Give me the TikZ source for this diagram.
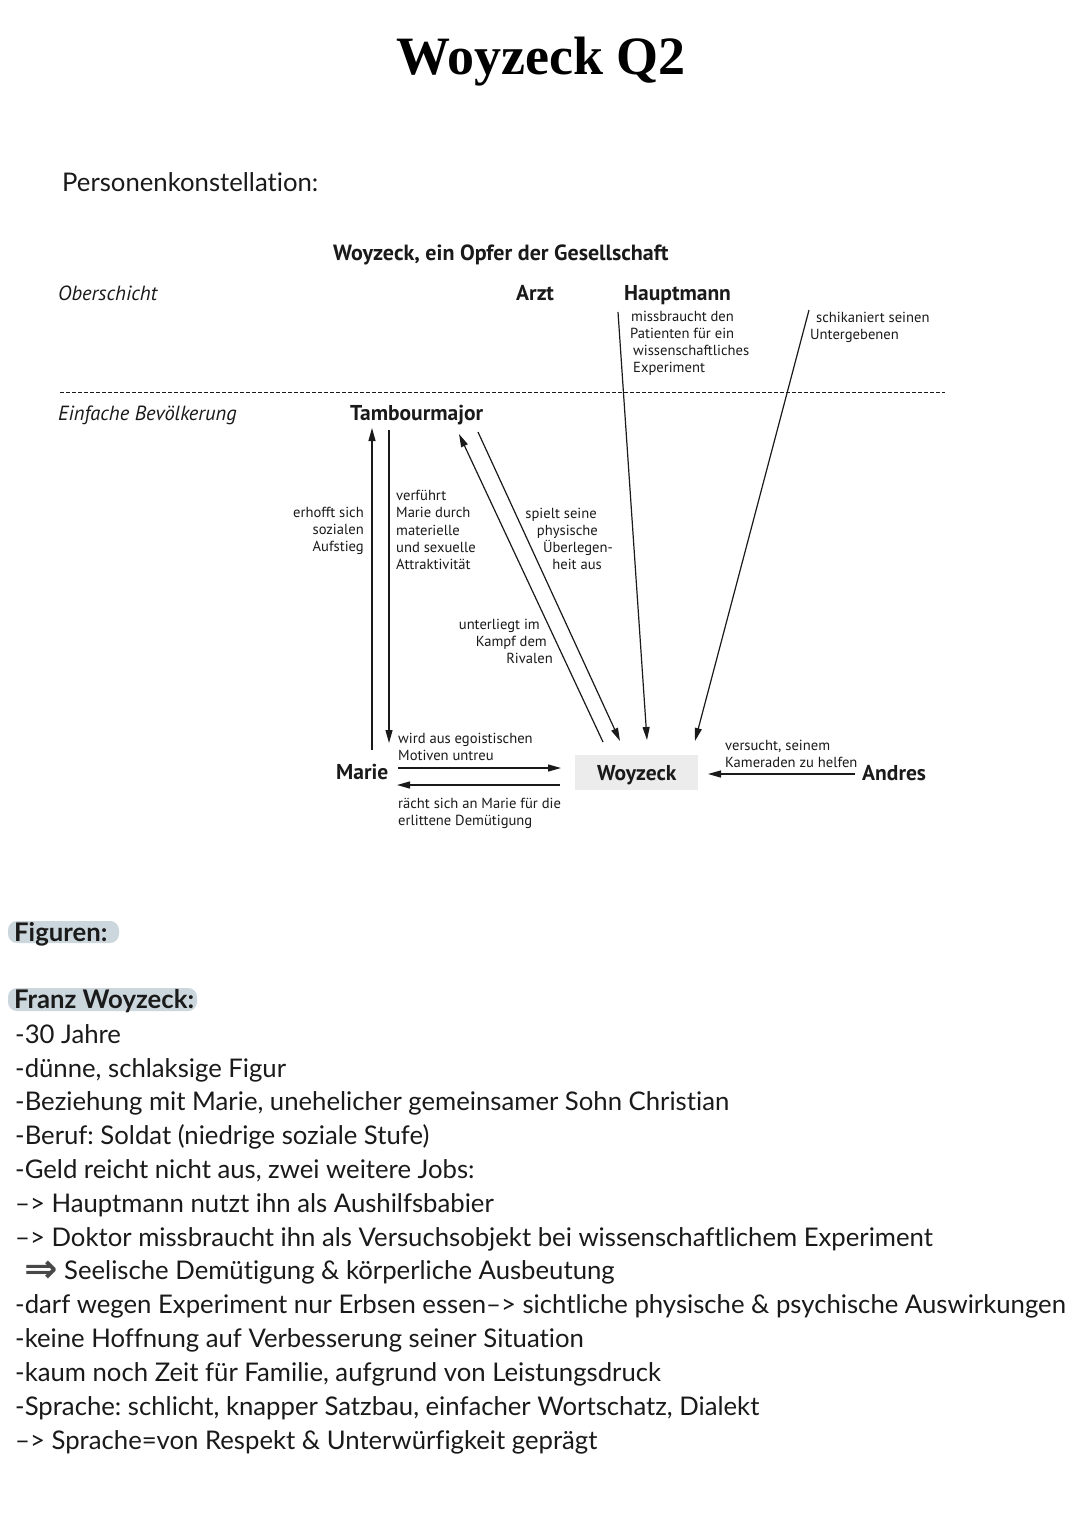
\documentclass[tikz,border=0pt]{standalone}
\usepackage{fontspec}
\usetikzlibrary{arrows.meta}
\newfontfamily\bodyf[RawFeature=-liga]{Lato}
\newfontfamily\diaf{PT Sans}
\newfontfamily\titlef{Liberation Serif}
\newfontfamily\symf{DejaVu Sans}
\definecolor{hl}{HTML}{CBD6DD}
\definecolor{ink}{HTML}{1A1A1A}
\frenchspacing
\begin{document}
\begin{tikzpicture}[x=1pt,y=-1pt,
  bodytxt/.style={anchor=base west,inner sep=0pt,text=ink,font=\bodyf\fontsize{25.7}{30}\selectfont},
  bodybold/.style={bodytxt,font=\bodyf\bfseries\fontsize{25.7}{30}\selectfont},
  pname/.style={inner sep=0pt,text=ink,font=\diaf\bfseries\fontsize{21.5}{24}\selectfont},
  layertxt/.style={anchor=base west,inner sep=0pt,text=ink,font=\diaf\itshape\fontsize{20.5}{24}\selectfont},
  smalltxt/.style={inner sep=0pt,text=ink,font=\diaf\fontsize{14.6}{17}\selectfont},
  rel/.style={line width=1.2pt,draw=ink,-{Triangle[length=13pt,width=7pt]}},
  hlbox/.style={fill=hl,rounded corners=9pt,draw=none}]
\useasboundingbox (0,0) rectangle (1080,1527);
\fill[white] (0,0) rectangle (1080,1527);

% headings
\node[anchor=base,inner sep=0pt,font=\titlef\bfseries\fontsize{54}{60}\selectfont] (title) at (541,74) {Woyzeck Q2};
\node[bodytxt] (pk) at (62,191) {Personenkonstellation:};

% diagram
\node[pname,anchor=base west,font=\diaf\bfseries\fontsize{22}{24}\selectfont] (sub) at (333,260) {Woyzeck, ein Opfer der Gesellschaft};
\node[layertxt] (ober) at (58,300) {Oberschicht};
\node[layertxt] (einf) at (58,420) {Einfache Bevölkerung};
\draw[ink,line width=1pt,dash pattern=on 4pt off 2pt] (60,392) -- (945,392);

\node[pname,anchor=base west] (arzt) at (516,300) {Arzt};
\node[pname,anchor=base west] (haupt) at (624,300) {Hauptmann};
\node[pname,anchor=base west] (tamb) at (350,420) {Tambourmajor};
\node[pname,anchor=base west] (marie) at (336,779) {Marie};
\fill[gray!15] (575,755) rectangle (698,790);
\node[pname,anchor=base west] (woy) at (597,780) {Woyzeck};
\node[pname,anchor=base west] (andres) at (862,780) {Andres};

% connector end points
\coordinate (t1) at (372,750);  \coordinate (t1e) at (372,428);
\coordinate (t2) at (389,430);  \coordinate (t2e) at (389,743);
\coordinate (w1) at (603,742);  \coordinate (w1e) at (459,434);
\coordinate (w2) at (478,432);  \coordinate (w2e) at (620,741);
\coordinate (az) at (618,312);  \coordinate (aze) at (647,740);
\coordinate (hm) at (809,310);  \coordinate (hme) at (695,741);
\coordinate (m1) at (398,768);  \coordinate (m1e) at (561,768);
\coordinate (m2) at (560,785);  \coordinate (m2e) at (397,785);
\coordinate (a1) at (855,774);  \coordinate (a1e) at (708,774);

\draw[rel] (t1) -- (t1e);
\draw[rel] (t2) -- (t2e);
\draw[rel] (w1) -- (w1e);
\draw[rel] (w2) -- (w2e);
\draw[rel] (az) -- (aze);
\draw[rel] (hm) -- (hme);
\draw[rel] (m1) -- (m1e);
\draw[rel] (m2) -- (m2e);
\draw[rel] (a1) -- (a1e);

% relation labels
\node[smalltxt,anchor=base west] (l1a) at (631,321) {missbraucht den};
\node[smalltxt,anchor=base west] (l1b) at (630,338) {Patienten für ein};
\node[smalltxt,anchor=base west] (l1c) at (633,355) {wissenschaftliches};
\node[smalltxt,anchor=base west] (l1d) at (633,372) {Experiment};

\node[smalltxt,anchor=base west] (l2a) at (816,322) {schikaniert seinen};
\node[smalltxt,anchor=base west] (l2b) at (810,339) {Untergebenen};

\node[smalltxt,anchor=base east] (l3a) at (364,517) {erhofft sich};
\node[smalltxt,anchor=base east] (l3b) at (364,534) {sozialen};
\node[smalltxt,anchor=base east] (l3c) at (364,551) {Aufstieg};

\node[smalltxt,anchor=base west] (l4a) at (396,500) {verführt};
\node[smalltxt,anchor=base west] (l4b) at (396,517) {Marie durch};
\node[smalltxt,anchor=base west] (l4c) at (396,535) {materielle};
\node[smalltxt,anchor=base west] (l4d) at (396,552) {und sexuelle};
\node[smalltxt,anchor=base west] (l4e) at (396,569) {Attraktivität};

\node[smalltxt,anchor=base east] (l5a) at (597,518) {spielt seine};
\node[smalltxt,anchor=base east] (l5b) at (598,535) {physische};
\node[smalltxt,anchor=base east] (l5c) at (613,552) {Überlegen-};
\node[smalltxt,anchor=base east] (l5d) at (602,569) {heit aus};

\node[smalltxt,anchor=base east] (l6a) at (540,629) {unterliegt im};
\node[smalltxt,anchor=base east] (l6b) at (547,646) {Kampf dem};
\node[smalltxt,anchor=base east] (l6c) at (553,663) {Rivalen};

\node[smalltxt,anchor=base west] (l7a) at (398,743) {wird aus egoistischen};
\node[smalltxt,anchor=base west] (l7b) at (398,760) {Motiven untreu};

\node[smalltxt,anchor=base west] (l8a) at (398,808) {rächt sich an Marie für die};
\node[smalltxt,anchor=base west] (l8b) at (398,825) {erlittene Demütigung};

\node[smalltxt,anchor=base west] (l9a) at (725,750) {versucht, seinem};
\node[smalltxt,anchor=base west] (l9b) at (725,767) {Kameraden zu helfen};

% Figuren section
\fill[hlbox] (8,921) rectangle (119,943);
\node[bodybold] (fig) at (14,941) {Figuren:};
\fill[hlbox] (8,988) rectangle (197,1011);
\node[bodybold] (fw) at (14,1008) {Franz Woyzeck:};

\node[bodytxt] (b1) at (15,1043) {-30 Jahre};
\node[bodytxt] (b2) at (15,1077) {-dünne, schlaksige Figur};
\node[bodytxt] (b3) at (15,1110) {-Beziehung mit Marie, unehelicher gemeinsamer Sohn Christian};
\node[bodytxt] (b4) at (15,1144) {-Beruf: Soldat (niedrige soziale Stufe)};
\node[bodytxt] (b5) at (15,1178) {-Geld reicht nicht aus, zwei weitere Jobs:};
\node[bodytxt] (b6) at (15,1212) {–> Hauptmann nutzt ihn als Aushilfsbabier};
\node[bodytxt] (b7) at (15,1246) {–> Doktor missbraucht ihn als Versuchsobjekt bei wissenschaftlichem Experiment};
\node[bodytxt,font=\symf\bfseries\fontsize{40}{40}\selectfont,text=ink!80] (b8s) at (24,1282) {⇒};
\node[bodytxt] (b8) at (64,1279) {Seelische Demütigung \& körperliche Ausbeutung};
\node[bodytxt] (b9) at (15,1313) {-darf wegen Experiment nur Erbsen essen–> sichtliche physische \& psychische Auswirkungen};
\node[bodytxt] (b10) at (15,1347) {-keine Hoffnung auf Verbesserung seiner Situation};
\node[bodytxt] (b11) at (15,1381) {-kaum noch Zeit für Familie, aufgrund von Leistungsdruck};
\node[bodytxt] (b12) at (15,1415) {-Sprache: schlicht, knapper Satzbau, einfacher Wortschatz, Dialekt};
\node[bodytxt] (b13) at (15,1449) {–> Sprache=von Respekt \& Unterwürfigkeit geprägt};
\end{tikzpicture}
\end{document}
